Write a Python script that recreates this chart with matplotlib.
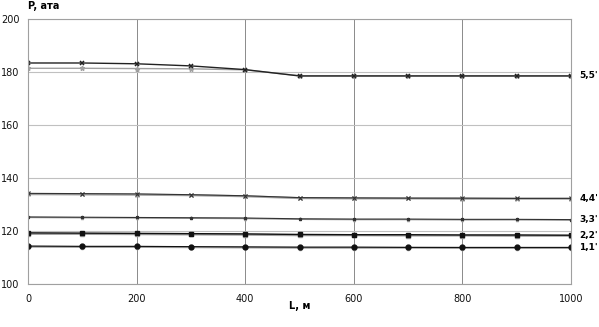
import matplotlib
matplotlib.use("Agg")
import matplotlib.pyplot as plt

L = [0, 100, 200, 300, 400, 500, 600, 700, 800, 900, 1000]

p5 = [183.4, 183.4, 183.1, 182.3, 180.9, 178.5, 178.5, 178.5, 178.5, 178.5, 178.5]
p5s = [181.4, 181.4, 181.3, 181.2, 180.8, 178.6, 178.6, 178.6, 178.6, 178.6, 178.6]
p4 = [134.2, 134.1, 134.0, 133.7, 133.3, 132.6, 132.5, 132.4, 132.4, 132.3, 132.3]
p4s = [133.9, 133.8, 133.7, 133.5, 133.1, 132.4, 132.3, 132.3, 132.2, 132.2, 132.2]
p3 = [125.3, 125.2, 125.1, 125.0, 124.9, 124.6, 124.5, 124.5, 124.4, 124.4, 124.3]
p3s = [125.1, 125.0, 124.9, 124.8, 124.7, 124.4, 124.3, 124.3, 124.2, 124.2, 124.1]
p2 = [119.3, 119.2, 119.1, 119.0, 118.9, 118.7, 118.6, 118.6, 118.5, 118.5, 118.4]
p2s = [118.9, 118.9, 118.8, 118.7, 118.6, 118.4, 118.4, 118.3, 118.3, 118.2, 118.2]
p1 = [114.3, 114.2, 114.2, 114.1, 114.0, 113.9, 113.9, 113.8, 113.8, 113.8, 113.8]
p1s = [114.1, 114.0, 114.0, 113.9, 113.8, 113.7, 113.7, 113.7, 113.6, 113.6, 113.6]

curve_labels = ["5,5'", "4,4'", "3,3'", "2,2'", "1,1'"]
label_y = [178.5, 132.3, 124.2, 118.3, 113.7]

fig = plt.figure(figsize=(5.99, 3.27), dpi=100)
ax = fig.add_axes([28/599, 1 - 284/327, (571-28)/599, (284-19)/327])

grey = "#a0a0a0"
# primed (grey) curves
ax.plot(L, p5s, color=grey, lw=1.0, marker="*", ms=3.5)
ax.plot(L, p4s, color=grey, lw=1.5, marker="x", ms=2.5)
ax.plot(L, p3s, color=grey, lw=1.0, marker="*", ms=2.5)
ax.plot(L, p2s, color=grey, lw=1.5, marker="s", ms=3)
ax.plot(L, p1s, color=grey, lw=1.5, marker="o", ms=3)
# main (black) curves
ax.plot(L, p5, color="#222222", lw=1.0, marker="x", ms=3.2, mew=1.1)
ax.plot(L, p4, color="#333333", lw=0.8, marker="x", ms=2.5, mew=0.8)
ax.plot(L, p3, color="#333333", lw=0.8, marker="*", ms=2.2)
ax.plot(L, p2, color="#111111", lw=1.0, marker="s", ms=3.5)
ax.plot(L, p1, color="#111111", lw=0.8, marker="o", ms=3.5)

ax.set_xlim(0, 1000)
ax.set_ylim(100, 200)
ax.set_xticks(range(0, 1001, 200))
ax.set_yticks(range(100, 201, 20))
ax.grid(True, axis="y", color="#c0c0c0", lw=0.8)
ax.grid(True, axis="x", color="#8a8a8a", lw=0.7)
ax.set_axisbelow(True)
for s in ax.spines.values():
    s.set_color("#a0a0a0")
    s.set_linewidth(0.8)
ax.tick_params(length=0, labelsize=7, colors="#111111")
ax.tick_params(axis="x", pad=7)
ax.tick_params(axis="y", pad=6)

for t, y in zip(curve_labels, label_y):
    ax.annotate(t, xy=(1000, y), xytext=(6, 0), textcoords="offset points",
                va="center", ha="left", fontsize=6.5, fontweight="bold",
                annotation_clip=False)

fig.text(28/599, 1 - 6/327, "P, ата", fontsize=7, fontweight="bold", ha="left", va="center")
fig.text(300/599, 1 - 306/327, "L, м", fontsize=7, fontweight="bold", ha="center", va="center")

fig.savefig("out.png", dpi=100)
